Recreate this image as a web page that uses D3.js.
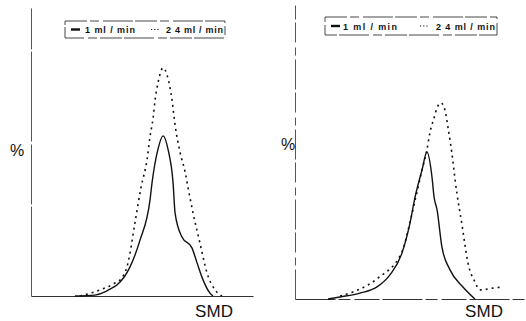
<!DOCTYPE html>
<html>
<head>
<meta charset="utf-8">
<script src="https://cdn.jsdelivr.net/npm/d3@7"></script>
<style>
  body { margin: 0; background: #fff; }
  text { font-family: "Liberation Sans", Arial, sans-serif; fill: #111; }
</style>
</head>
<body>
<div id="chart"></div>
<script>
// legend labels
const seriesLabels = ['1 ml / min', '2 4 ml / min'];

// left panel: SMD (arbitrary units) and % at 1 ml/min
const leftSmdA = [19.8, 28.8, 33.3, 35.6, 38.7, 44.6, 49.1, 53.6, 54.5, 57.2, 59.5, 61.7, 64.0, 64.9, 68.0, 72.5, 74.8, 77.5, 80.6, 82.0];
const leftPctA = [0, 0.3, 1.4, 2.4, 3.8, 10.1, 19.4, 33.3, 39.2, 51.0, 55.6, 51.0, 39.2, 28.8, 20.5, 16.7, 11.5, 5.6, 1.0, 0];

// left panel: 2.4 ml/min
const leftSmdB = [22.1, 31.1, 37.8, 41.0, 43.7, 46.8, 49.5, 52.3, 53.6, 55.0, 55.9, 57.2, 59.5, 61.3, 63.5, 64.9, 67.1, 69.4, 70.7, 73.0, 76.1, 79.3, 82.9, 86.0];
const leftPctB = [0, 2.1, 4.5, 6.3, 11.5, 25.3, 37.5, 47.5, 55.3, 61.8, 68.1, 74.0, 79.2, 76.7, 68.1, 59.4, 50.0, 43.1, 37.8, 28.8, 18.4, 8.0, 2.1, 0];

// right panel: 1 ml/min
const rightSmdA = [14.3, 19.5, 28.1, 35.5, 41.1, 46.3, 49.8, 51.9, 55.0, 57.1, 59.3, 60.2, 61.5, 63.6, 67.1, 72.7, 77.9];
const rightPctA = [0, 0.7, 2.0, 4.1, 8.2, 15.6, 25.9, 34.4, 43.9, 50.0, 41.5, 34.7, 30.3, 17.7, 9.9, 4.1, 0];

// right panel: 2.4 ml/min
const rightSmdB = [19.5, 25.1, 35.9, 46.3, 49.8, 52.4, 55.0, 57.1, 58.4, 60.2, 61.5, 63.2, 64.9, 66.2, 68.4, 69.3, 72.3, 74.9, 77.9, 80.1, 85.7, 90.0];
const rightPctB = [1.0, 2.4, 7.1, 16.0, 26.2, 35.0, 43.9, 50.7, 56.5, 61.6, 65.0, 66.7, 64.3, 58.5, 46.6, 40.5, 25.2, 12.2, 5.8, 3.1, 3.7, 4.1];

const W = 526, H = 321;
const svg = d3.select('#chart').append('svg')
  .attr('width', W).attr('height', H);

const panels = [
  {
    x0: 31, x1: 253, yTop: 8, yBase: 296,
    series: [[leftSmdA, leftPctA], [leftSmdB, leftPctB]],
    pct: [10, 156], smd: [195, 317],
    legend: {x: 65, y: 21, w: 160, h: 17, lineX: 71, dotX: 151, textA: 85, lenA: 50, textB: 166, lenB: 57},
    axisDash: null
  },
  {
    x0: 295, x1: 526, yTop: 5, yBase: 299,
    series: [[rightSmdA, rightPctA], [rightSmdB, rightPctB]],
    pct: [281, 150], smd: [465, 317],
    legend: {x: 325, y: 17, w: 172, h: 18, lineX: 331, dotX: 420, textA: 343, lenA: 54, textB: 436, lenB: 59},
    axisDash: '40,3,12,4,25,3'
  }
];

panels.forEach(p => {
  const x = d3.scaleLinear().domain([0, 100]).range([p.x0, p.x1]);
  const y = d3.scaleLinear().domain([0, 100]).range([p.yBase, p.yTop]);
  const g = svg.append('g');

  // x axis (no ticks)
  g.append('g')
    .attr('transform', `translate(0,${p.yBase})`)
    .call(d3.axisBottom(x).tickValues([]).tickSizeOuter(0))
    .select('.domain')
    .attr('stroke', '#333').attr('stroke-width', 1.2)
    .attr('stroke-dasharray', p.axisDash);

  // y axis (no ticks)
  g.append('g')
    .attr('transform', `translate(${p.x0},0)`)
    .call(d3.axisLeft(y).tickValues([]).tickSizeOuter(0))
    .select('.domain')
    .attr('stroke', '#555').attr('stroke-width', 1)
    .attr('stroke-dasharray', p.axisDash ? '30,4,8,5,20,3' : '90,2,60,3');

  const line = d3.line()
    .x(d => x(d[0])).y(d => y(d[1]))
    .curve(d3.curveMonotoneX);

  p.series.forEach(([xs, ys], i) => {
    const pts = xs.map((v, k) => [v, ys[k]]);
    g.append('path')
      .datum(pts)
      .attr('d', line)
      .attr('fill', 'none')
      .attr('stroke', '#111')
      .attr('stroke-width', i === 0 ? 1.4 : 1.6)
      .attr('stroke-dasharray', i === 0 ? null : '2,4');
  });

  // axis labels
  g.append('text').attr('x', p.pct[0]).attr('y', p.pct[1])
    .attr('font-size', 16).text('%');
  g.append('text').attr('x', p.smd[0]).attr('y', p.smd[1])
    .attr('font-size', 17).attr('textLength', 38).text('SMD');

  // legend
  const L = p.legend;
  const lg = g.append('g');
  lg.append('rect')
    .attr('x', L.x).attr('y', L.y).attr('width', L.w).attr('height', L.h)
    .attr('fill', 'none').attr('stroke', '#333').attr('stroke-width', 0.9)
    .attr('stroke-dasharray', '22,3,9,4,30,2');
  lg.append('line')
    .attr('x1', L.lineX).attr('x2', L.lineX + 9)
    .attr('y1', L.y + L.h / 2).attr('y2', L.y + L.h / 2)
    .attr('stroke', '#111').attr('stroke-width', 2.4);
  lg.append('text')
    .attr('x', L.textA).attr('y', L.y + L.h / 2 + 3.5)
    .attr('font-size', 9).attr('font-weight', 'bold')
    .attr('textLength', L.lenA).attr('lengthAdjust', 'spacing')
    .text(seriesLabels[0]);
  lg.append('line')
    .attr('x1', L.dotX).attr('x2', L.dotX + 9)
    .attr('y1', L.y + L.h / 2).attr('y2', L.y + L.h / 2)
    .attr('stroke', '#111').attr('stroke-width', 1.2)
    .attr('stroke-dasharray', '1.2,2');
  lg.append('text')
    .attr('x', L.textB).attr('y', L.y + L.h / 2 + 3.5)
    .attr('font-size', 9).attr('font-weight', 'bold')
    .attr('textLength', L.lenB).attr('lengthAdjust', 'spacing')
    .text(seriesLabels[1]);
});
</script>
</body>
</html>
